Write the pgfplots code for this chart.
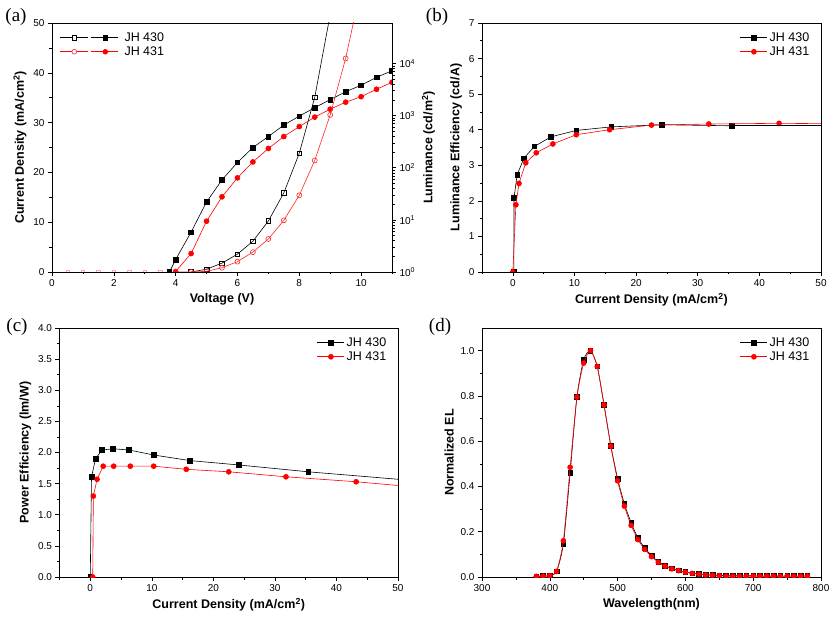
\documentclass[border=0pt]{standalone}
\usepackage{pgfplots}
\pgfplotsset{compat=1.18}
\usepackage{fontspec}
\setmainfont{Liberation Sans}
\newfontfamily\seriffont{Liberation Serif}

\pgfplotsset{
  panel/.style={
    scale only axis,
    height=249pt,
    tick align=outside,
    major tick length=4pt,
    minor tick length=2.5pt,
    tick label style={font=\fontsize{10}{12}\selectfont},
    label style={font=\fontsize{12.5}{14}\selectfont\bfseries},
    /pgf/number format/assume math mode=true,
    axis line style={line width=0.8pt},
    every tick/.style={line width=0.6pt, black},
    xtick pos=bottom, ytick pos=left,
    clip marker paths=true,
    legend cell align=left,
    legend style={draw=none, fill=none, font=\fontsize{12.5}{14}\selectfont,
      row sep=0pt, inner sep=1pt},
  },
  lineleg/.style={legend image code/.code={
      \draw[mark repeat=2,mark phase=2,##1] plot coordinates {(0pt,0pt) (13.5pt,0pt) (27pt,0pt)};}},
  s430/.style={black, line width=0.6pt, mark=square*, mark size=2.3pt, mark options={solid, fill=black}},
  s431/.style={red, line width=0.6pt, mark=*, mark size=2.5pt, mark options={solid, fill=red}},
  o430/.style={black, line width=0.6pt, mark=square, mark size=2.3pt, mark options={solid, fill=white}},
  o431/.style={red!85!white, line width=0.6pt, mark=o, mark size=2.5pt, mark options={solid, fill=white}},
}

\begin{document}
\begin{tikzpicture}[x=1pt,y=1pt]
\useasboundingbox (0,0) rectangle (839,622);

% ---------------- (a) ----------------
\begin{axis}[panel, at={(52pt,350pt)}, anchor=south west, width=340pt,
  xmin=0, xmax=11, ymin=0, ymax=50,
  xtick={0,2,...,10}, minor xtick={1,3,...,11},
  ytick={0,10,...,50}, minor ytick={5,15,...,45},
  xlabel={Voltage (V)}, ylabel={Current Density (mA/cm\textsuperscript{2})},
  legend style={at={(0.02,0.975)}, anchor=north west},
]
\addlegendimage{legend image code/.code={
  \draw[black,line width=0.6pt] (0pt,0pt) -- (28pt,0pt);
  \draw[black,line width=0.6pt] (31pt,0pt) -- (58pt,0pt);
  \draw[black,fill=white,line width=0.6pt] (11.7pt,-2.3pt) rectangle (16.3pt,2.3pt);
  \fill[black] (42.7pt,-2.3pt) rectangle (47.3pt,2.3pt);
  \path (62pt,0pt);}}
\addlegendentry{JH 430}
\addlegendimage{legend image code/.code={
  \draw[red,line width=0.6pt] (0pt,0pt) -- (28pt,0pt);
  \draw[red,line width=0.6pt] (31pt,0pt) -- (58pt,0pt);
  \draw[red!85!white,fill=white,line width=0.6pt] (14pt,0pt) circle (2.4pt);
  \fill[red] (45pt,0pt) circle (2.5pt);
  \path (62pt,0pt);}}
\addlegendentry{JH 431}
\addplot[only marks, mark=square, mark size=1.7pt, red!35] coordinates {
(0.5,0.1)(1.0,0.1)(1.5,0.1)(2.0,0.1)(2.5,0.1)(3.0,0.1)(3.5,0.1)};
\addplot[s430] coordinates {
(3.8,0)(4.0,2.5)(4.5,8.0)(5.0,14.05)(5.5,18.5)(6.0,22.0)(6.5,25.0)(7.0,27.2)(7.5,29.5)
(8.0,31.3)(8.5,33.0)(9.0,34.6)(9.5,36.2)(10.0,37.5)(10.5,39.1)(11.0,40.4)};
\addplot[s431] coordinates {
(4.0,0.1)(4.5,3.7)(5.0,10.2)(5.5,15.1)(6.0,18.9)(6.5,22.1)(7.0,24.8)(7.5,27.2)
(8.0,29.2)(8.5,31.1)(9.0,32.7)(9.5,34.1)(10.0,35.2)(10.5,36.7)(11.0,38.1)};
\end{axis}
\begin{axis}[panel, at={(52pt,350pt)}, anchor=south west, width=340pt,
  xmin=0, xmax=11, ymode=log, ymin=1, ymax=60000,
  axis x line=none, axis y line*=right, ytick pos=right,
  ytick={1,10,100,1000,10000},
  yticklabels={10\textsuperscript{0},10\textsuperscript{1},10\textsuperscript{2},10\textsuperscript{3},10\textsuperscript{4}},
  ylabel={Luminance (cd/m\textsuperscript{2})},
]
\addplot[o430] coordinates {
(4.5,1.0)(5.0,1.13)(5.5,1.48)(6.0,2.2)(6.5,3.9)(7.0,9.5)(7.5,33)(8.0,190)(8.5,2240)(9.0,87000)};
\addplot[o431] coordinates {
(4.0,1.0)(4.5,1.0)(5.0,1.03)(5.5,1.21)(6.0,1.58)(6.5,2.4)(7.0,4.3)(7.5,9.8)(8.0,29.6)
(8.5,138)(9.0,1035)(9.5,12500)(10.0,290000)};
\end{axis}

% ---------------- (b) ----------------
\begin{axis}[panel, at={(482pt,350pt)}, anchor=south west, width=339pt,
  xmin=-5, xmax=50, ymin=0, ymax=7,
  xtick={0,10,...,50}, minor xtick={-5,5,...,45},
  ytick={0,1,...,7}, minor ytick={0.5,1.5,...,6.5},
  xlabel={Current Density (mA/cm\textsuperscript{2})},
  ylabel={Luminance Efficiency (cd/A)},
  legend style={at={(0.975,0.975)}, anchor=north east}, lineleg,
]
\addplot[s430] coordinates {
(0.16,0)(0.2,2.09)(0.7,2.73)(1.8,3.2)(3.5,3.53)(6.2,3.8)(10.3,3.98)(16.0,4.08)(24.2,4.14)(35.5,4.11)};
\addlegendentry{JH 430}
\addplot[s431] coordinates {
(0,0)(0.5,1.89)(1.0,2.49)(2.1,3.07)(3.8,3.35)(6.5,3.6)(10.3,3.86)(15.7,4.0)(22.5,4.13)(31.8,4.16)(43.2,4.18)};
\addlegendentry{JH 431}
\addplot[black, line width=0.6pt, forget plot] coordinates {(35.5,4.11)(50,4.11)};
\addplot[red, line width=0.6pt, forget plot] coordinates {(43.2,4.18)(50,4.17)};
\end{axis}

% ---------------- (c) ----------------
\begin{axis}[panel, at={(59.5pt,45pt)}, anchor=south west, width=338.5pt,
  xmin=-5, xmax=50, ymin=0, ymax=4,
  xtick={0,10,...,50}, minor xtick={-5,5,...,45},
  ytick={0,0.5,...,4}, minor ytick={0.25,0.75,...,3.75},
  yticklabel style={/pgf/number format/.cd, fixed, fixed zerofill, precision=1},
  xlabel={Current Density (mA/cm\textsuperscript{2})},
  ylabel={Power Efficiency (lm/W)},
  legend style={at={(0.975,0.975)}, anchor=north east}, lineleg,
]
\addplot[s430] coordinates {
(0,0)(0.2,1.61)(0.87,1.90)(1.9,2.04)(3.7,2.06)(6.3,2.04)(10.3,1.96)(16.2,1.87)(24.1,1.80)(35.4,1.69)};
\addlegendentry{JH 430}
\addplot[s431] coordinates {
(0.4,0)(0.5,1.30)(1.1,1.57)(2.1,1.78)(3.8,1.78)(6.5,1.78)(10.3,1.78)(15.6,1.73)(22.5,1.69)(31.8,1.61)(43.2,1.53)};
\addlegendentry{JH 431}
\addplot[black, line width=0.6pt, forget plot] coordinates {(35.4,1.69)(50,1.57)};
\addplot[red, line width=0.6pt, forget plot] coordinates {(43.2,1.53)(50,1.47)};
\end{axis}

% ---------------- (d) ----------------
\begin{axis}[panel, at={(482pt,45pt)}, anchor=south west, width=339pt,
  xmin=300, xmax=800, ymin=0, ymax=1.1,
  xtick={300,400,...,800}, minor xtick={350,450,...,750},
  ytick={0,0.2,...,1.0}, minor ytick={0.1,0.3,...,0.9},
  yticklabel style={/pgf/number format/.cd, fixed, fixed zerofill, precision=1},
  xlabel={Wavelength(nm)},
  ylabel={Normalized EL},
  legend style={at={(0.975,0.975)}, anchor=north east}, lineleg,
]
\addplot[s430, smooth, tension=0.4] coordinates {
(380,0.003)(390,0.004)(400,0.006)(410,0.025)(420,0.145)(430,0.46)(440,0.795)(450,0.96)
(460,1.0)(470,0.93)(480,0.76)(490,0.58)(500,0.435)(510,0.323)(520,0.24)(530,0.172)
(540,0.128)(550,0.095)(560,0.068)(570,0.05)(580,0.038)(590,0.03)(600,0.022)(610,0.017)
(620,0.013)(630,0.01)(640,0.009)(650,0.007)(660,0.006)(670,0.006)(680,0.005)(690,0.005)
(700,0.006)(710,0.004)(720,0.004)(730,0.004)(740,0.004)(750,0.004)(760,0.004)(770,0.004)(780,0.006)};
\addlegendentry{JH 430}
\addplot[s431, smooth, tension=0.4] coordinates {
(380,0.003)(390,0.004)(400,0.006)(410,0.025)(420,0.16)(430,0.485)(440,0.795)(450,0.945)
(460,1.0)(470,0.93)(480,0.76)(490,0.578)(500,0.425)(510,0.313)(520,0.228)(530,0.165)
(540,0.122)(550,0.09)(560,0.065)(570,0.048)(580,0.036)(590,0.028)(600,0.021)(610,0.016)
(620,0.012)(630,0.009)(640,0.008)(650,0.006)(660,0.004)(670,0.004)(680,0.004)(690,0.004)
(700,0.004)(710,0.004)(720,0.004)(730,0.004)(740,0.004)(750,0.004)(760,0.004)(770,0.004)(780,0.004)};
\addlegendentry{JH 431}
\end{axis}

% panel labels
\node[font=\seriffont\fontsize{19}{19}\selectfont] at (16,605) {(a)};
\node[font=\seriffont\fontsize{19}{19}\selectfont] at (437,605) {(b)};
\node[font=\seriffont\fontsize{19}{19}\selectfont] at (17,295) {(c)};
\node[font=\seriffont\fontsize{19}{19}\selectfont] at (440,295) {(d)};
\end{tikzpicture}
\end{document}
